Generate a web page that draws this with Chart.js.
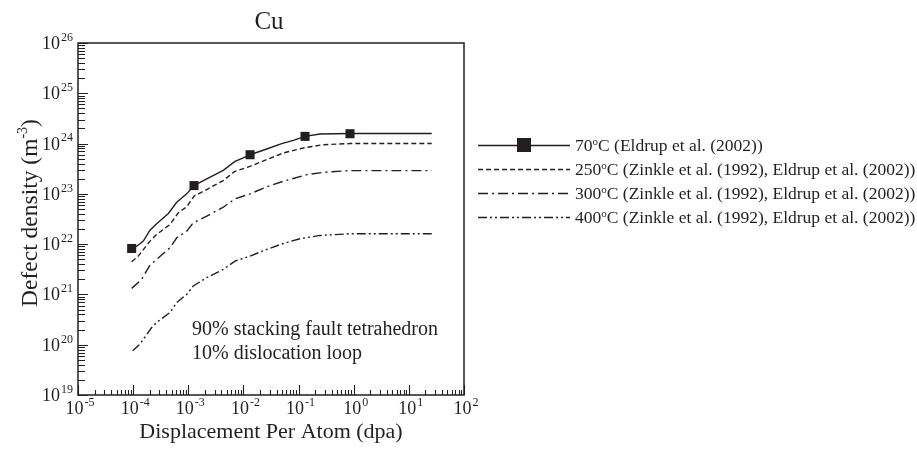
<!DOCTYPE html>
<html>
<head>
<meta charset="utf-8">
<script src="https://cdn.jsdelivr.net/npm/chart.js@4.4.0/dist/chart.umd.min.js"></script>
<style>
  html, body { margin: 0; padding: 0; background: #fff; }
</style>
</head>
<body>
<canvas id="chart" width="917" height="451"></canvas>
<script>
// Cu defect density vs dpa
const dpa70 = [9.4e-5, 1.16e-4, 1.53e-4, 2.02e-4, 2.67e-4, 4.35e-4, 6.17e-4, 9.35e-4, 1.27e-3, 2.16e-3, 4.31e-3, 7.03e-3, 9.95e-3, 1.32e-2, 2.64e-2, 4.94e-2, 8.04e-2, 0.131, 0.245, 0.857, 26];
const dens70 = [8.2e21, 9.1e21, 1.15e22, 1.9e22, 2.54e22, 4.07e22, 6.8e22, 1.0e23, 1.46e23, 1.98e23, 2.94e23, 4.43e23, 5.17e23, 6.0e23, 7.8e23, 1.0e24, 1.16e24, 1.39e24, 1.55e24, 1.59e24, 1.59e24];
const eldrupDpa = [9.4e-5, 1.27e-3, 1.32e-2, 0.131, 0.857];
const eldrupDens = [8.2e21, 1.46e23, 6.0e23, 1.39e24, 1.57e24];

const dpa250 = [9.4e-5, 1.24e-4, 2.02e-4, 2.67e-4, 4.66e-4, 6.59e-4, 9.35e-4, 1.27e-3, 2.16e-3, 4.31e-3, 7.03e-3, 1.32e-2, 2.64e-2, 5.28e-2, 0.122, 0.281, 0.857, 26];
const dens250 = [4.48e21, 5.78e21, 1.15e22, 1.56e22, 2.46e22, 4.2e22, 5.52e22, 8.96e22, 1.22e23, 1.84e23, 2.81e23, 3.52e23, 4.79e23, 6.5e23, 8.17e23, 9.5e23, 1.0e24, 1.0e24];

const dpa300 = [9.4e-5, 1.43e-4, 2.02e-4, 2.67e-4, 4.66e-4, 6.17e-4, 9.35e-4, 1.23e-3, 2.16e-3, 4.31e-3, 7.03e-3, 1.32e-2, 2.64e-2, 5.28e-2, 0.141, 0.281, 0.857, 26];
const dens300 = [1.32e21, 2.0e21, 3.84e21, 4.98e21, 8.49e21, 1.34e22, 1.81e22, 2.66e22, 3.6e22, 5.42e22, 7.96e22, 1.0e23, 1.38e23, 1.78e23, 2.41e23, 2.68e23, 2.9e23, 2.9e23];

const dpa400 = [9.8e-5, 1.33e-4, 2.17e-4, 2.67e-4, 4.66e-4, 6.17e-4, 9.35e-4, 1.23e-3, 2.16e-3, 4.31e-3, 7.03e-3, 1.32e-2, 2.64e-2, 5.28e-2, 0.106, 0.245, 0.857, 26];
const dens400 = [7.6e19, 1.03e20, 2.2e20, 2.77e20, 4.37e20, 6.9e20, 1.0e21, 1.47e21, 2.16e21, 3.15e21, 4.6e21, 5.78e21, 7.85e21, 1.03e22, 1.28e22, 1.49e22, 1.61e22, 1.61e22];

const xDecades = [-5, -4, -3, -2, -1, 0, 1, 2];
const yDecades = [19, 20, 21, 22, 23, 24, 25, 26];

const seriesTemps = ['70', '250', '300', '400'];
const seriesRefs = [' (Eldrup et al. (2002))', ' (Zinkle et al. (1992), Eldrup et al. (2002))', ' (Zinkle et al. (1992), Eldrup et al. (2002))', ' (Zinkle et al. (1992), Eldrup et al. (2002))'];
const noteLines = ['90% stacking fault tetrahedron', '10% dislocation loop'];

const INK = '#231f20';
const SERIF = '"Liberation Serif", "Times New Roman", serif';
const dashes = [[], [5, 3], [10, 4, 2, 4], [9, 3, 2, 3, 2, 3]];

const pts = (xs, ys) => xs.map((x, i) => ({ x, y: ys[i] }));
const lineSet = (xs, ys, dash) => ({
  data: pts(xs, ys), borderColor: INK, borderWidth: 1.4, borderDash: dash,
  pointRadius: 0, fill: false, tension: 0
});

// draws "10" with a raised exponent; align: 'center' or 'right'
function drawPow(ctx, exp, x, y, align, size) {
  const big = size + 'px ' + SERIF, small = Math.round(size * 0.64) + 'px ' + SERIF;
  ctx.font = big; const wb = ctx.measureText('10').width;
  ctx.font = small; const we = ctx.measureText(String(exp)).width;
  const total = wb + we + 1;
  let x0 = align === 'right' ? x - total : x - total / 2;
  ctx.textAlign = 'left'; ctx.textBaseline = 'alphabetic';
  ctx.font = big; ctx.fillText('10', x0, y);
  ctx.font = small; ctx.fillText(String(exp), x0 + wb + 1, y - size * 0.45);
}

const framePlugin = {
  id: 'frame',
  afterDraw(chart) {
    const { ctx, chartArea: a, scales: { x, y } } = chart;
    ctx.save();
    ctx.strokeStyle = INK; ctx.fillStyle = INK;
    ctx.lineWidth = 1.5;
    ctx.strokeRect(a.left, a.top, a.right - a.left, a.bottom - a.top);

    // inward ticks
    ctx.lineWidth = 1.1;
    ctx.beginPath();
    xDecades.forEach(d => {
      const px = Math.round(x.getPixelForValue(Math.pow(10, d))) + 0.5;
      ctx.moveTo(px, a.bottom); ctx.lineTo(px, a.bottom - 10);
      if (d < 2) for (let k = 2; k <= 9; k++) {
        const pm = Math.round(x.getPixelForValue(k * Math.pow(10, d))) + 0.5;
        ctx.moveTo(pm, a.bottom); ctx.lineTo(pm, a.bottom - 5);
      }
    });
    yDecades.forEach(d => {
      const py = Math.round(y.getPixelForValue(Math.pow(10, d))) + 0.5;
      ctx.moveTo(a.left, py); ctx.lineTo(a.left + 10, py);
      if (d < 26) for (let k = 2; k <= 9; k++) {
        const pm = Math.round(y.getPixelForValue(k * Math.pow(10, d))) + 0.5;
        ctx.moveTo(a.left, pm); ctx.lineTo(a.left + 7, pm);
      }
    });
    ctx.stroke();

    // tick labels
    xDecades.forEach(d => drawPow(ctx, d, x.getPixelForValue(Math.pow(10, d)) + 2, a.bottom + 19, 'center', 18));
    yDecades.forEach(d => drawPow(ctx, d, a.left - 5, y.getPixelForValue(Math.pow(10, d)) + 6, 'right', 18));

    // titles
    ctx.textAlign = 'center'; ctx.textBaseline = 'alphabetic';
    ctx.font = '25px ' + SERIF;
    ctx.fillText('Cu', 269, 29);
    ctx.font = '22px ' + SERIF;
    ctx.fillText('Displacement Per Atom (dpa)', 271, 438);

    ctx.save();
    ctx.translate(37, 213);
    ctx.rotate(-Math.PI / 2);
    ctx.font = '23.5px ' + SERIF;
    const ylab = 'Defect density (m';
    const w1 = ctx.measureText(ylab).width;
    ctx.font = '14px ' + SERIF;
    const w2 = ctx.measureText('-3').width;
    ctx.font = '23.5px ' + SERIF;
    const w3 = ctx.measureText(')').width;
    let sx = -(w1 + w2 + w3) / 2;
    ctx.textAlign = 'left';
    ctx.fillText(ylab, sx, 0);
    ctx.font = '14px ' + SERIF;
    ctx.fillText('-3', sx + w1, -10);
    ctx.font = '23.5px ' + SERIF;
    ctx.fillText(')', sx + w1 + w2, 0);
    ctx.restore();

    // note inside the plot
    ctx.textAlign = 'left';
    ctx.font = '20px ' + SERIF;
    ctx.fillText(noteLines[0], 192, 335);
    ctx.fillText(noteLines[1], 192, 359);

    // legend
    const rowsY = [145, 169, 193, 217];
    rowsY.forEach((ly, i) => {
      ctx.lineWidth = 1.4;
      ctx.setLineDash(dashes[i]);
      ctx.beginPath(); ctx.moveTo(478, ly + 0.5); ctx.lineTo(570, ly + 0.5); ctx.stroke();
      ctx.setLineDash([]);
      if (i === 0) ctx.fillRect(517, ly - 7, 14, 14);
      ctx.font = '17.5px ' + SERIF;
      let tx = 575;
      ctx.fillText(seriesTemps[i], tx, ly + 6);
      tx += ctx.measureText(seriesTemps[i]).width;
      ctx.font = '11px ' + SERIF;
      ctx.fillText('o', tx, ly);
      tx += ctx.measureText('o').width;
      ctx.font = '17.5px ' + SERIF;
      ctx.fillText('C' + seriesRefs[i], tx, ly + 6);
    });
    ctx.restore();
  }
};

new Chart(document.getElementById('chart').getContext('2d'), {
  type: 'line',
  data: {
    datasets: [
      lineSet(dpa70, dens70, dashes[0]),
      lineSet(dpa250, dens250, dashes[1]),
      lineSet(dpa300, dens300, dashes[2]),
      lineSet(dpa400, dens400, dashes[3]),
      { data: pts(eldrupDpa, eldrupDens), showLine: false, pointStyle: 'rect',
        pointRadius: 6.4, backgroundColor: INK, borderColor: INK, borderWidth: 0 }
    ]
  },
  options: {
    responsive: false,
    animation: false,
    layout: { padding: { left: 78, right: 453, top: 43, bottom: 56 } },
    plugins: { legend: { display: false }, tooltip: { enabled: false } },
    scales: {
      x: { type: 'logarithmic', min: 1e-5, max: 1e2, display: false },
      y: { type: 'logarithmic', min: 1e19, max: 1e26, display: false }
    }
  },
  plugins: [framePlugin]
});
</script>
</body>
</html>
